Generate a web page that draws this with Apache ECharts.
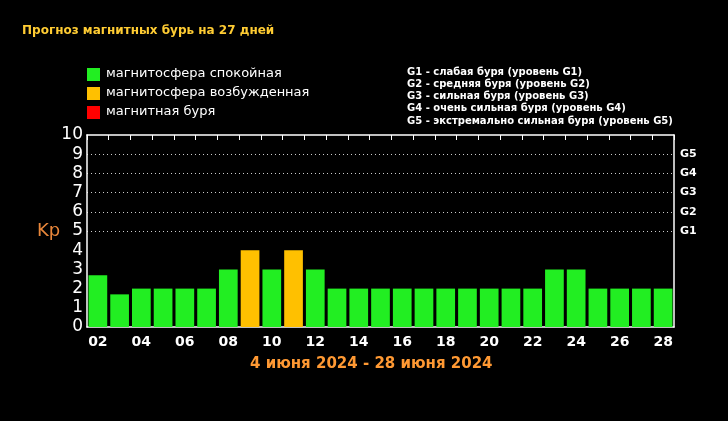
<!DOCTYPE html>
<html>
<head>
<meta charset="utf-8">
<script src="https://cdn.jsdelivr.net/npm/echarts@6/dist/echarts.min.js"></script>
<style>html,body{margin:0;background:#000}#chart{width:728px;height:421px}</style>
</head>
<body>
<div id="chart"></div>
<script>
var days = ['02','03','04','05','06','07','08','09','10','11','12','13','14','15','16','17','18','19','20','21','22','23','24','25','26','27','28'];
var kp = [2.7, 1.7, 2, 2, 2, 2, 3, 4, 3, 4, 3, 2, 2, 2, 2, 2, 2, 2, 2, 2, 2, 3, 3, 2, 2, 2, 2];
var stormLevels = {5: 'G1', 6: 'G2', 7: 'G3', 8: 'G4', 9: 'G5'};
var legendItems = [
    {text: 'магнитосфера спокойная', color: '#22ee22'},
    {text: 'магнитосфера возбужденная', color: '#ffc000'},
    {text: 'магнитная буря', color: '#ff0000'}
];
var stormNotes = [
    'G1 - слабая буря (уровень G1)',
    'G2 - средняя буря (уровень G2)',
    'G3 - сильная буря (уровень G3)',
    'G4 - очень сильная буря (уровень G4)',
    'G5 - экстремально сильная буря (уровень G5)'
];

function barColor(v) {
    if (v >= 5) return '#ff0000';
    if (v >= 4) return '#ffc000';
    return '#22ee22';
}

var graphics = [
    {type: 'text', left: 22, top: 25, style: {text: 'Прогноз магнитных бурь на 27 дней', fill: '#ffcc33', font: 'bold 12px "DejaVu Sans"'}},
    {type: 'text', left: 37, top: 222, style: {text: 'Kp', fill: '#e8863a', font: '18px "DejaVu Sans"'}},
    {type: 'text', left: 250, top: 357, style: {text: '4 июня 2024 - 28 июня 2024', fill: '#ff9933', font: 'bold 15px "DejaVu Sans"'}}
];
legendItems.forEach(function (it, i) {
    graphics.push({type: 'rect', shape: {x: 87, y: 68 + i * 19, width: 13, height: 13}, style: {fill: it.color}});
    graphics.push({type: 'text', left: 106, top: 67 + i * 19, style: {text: it.text, fill: '#fff', font: '13px "DejaVu Sans"'}});
});
stormNotes.forEach(function (t, i) {
    graphics.push({type: 'text', left: 407, top: 67 + i * 12.3, style: {text: t, fill: '#fff', font: 'bold 10px "DejaVu Sans"'}});
});

var myChart = echarts.init(document.getElementById('chart'));
myChart.setOption({
    backgroundColor: '#000',
    animation: false,
    grid: {left: 87, right: 54, top: 135, bottom: 94},
    graphic: graphics,
    xAxis: [
        {
            type: 'category', data: days, position: 'bottom',
            axisLine: {onZero: false, lineStyle: {color: '#fff', width: 1.5}},
            axisTick: {show: false},
            axisLabel: {interval: 1, color: '#fff', fontWeight: 'bold', fontSize: 14, fontFamily: 'DejaVu Sans', margin: 8}
        },
        {
            type: 'category', data: days, position: 'top',
            axisLine: {onZero: false, lineStyle: {color: '#fff', width: 1.5}},
            axisTick: {show: true, inside: true, length: 5, interval: 0, lineStyle: {color: '#fff'}},
            axisLabel: {show: false}
        }
    ],
    yAxis: [
        {
            type: 'value', min: 0, max: 10, interval: 1, position: 'left',
            axisLine: {show: true, onZero: false, lineStyle: {color: '#fff', width: 1.5}},
            axisTick: {show: false},
            axisLabel: {color: '#fff', fontSize: 17, fontFamily: 'DejaVu Sans', margin: 4},
            splitLine: {show: false}
        },
        {
            type: 'value', min: 0, max: 10, interval: 1, position: 'right',
            axisLine: {show: true, onZero: false, lineStyle: {color: '#fff', width: 1.5}},
            axisTick: {show: false},
            axisLabel: {color: '#fff', fontSize: 11, fontWeight: 'bold', fontFamily: 'DejaVu Sans', margin: 6,
                formatter: function (v) { return stormLevels[v] || ''; }},
            splitLine: {show: true, lineStyle: {type: [1, 3], width: 1,
                color: ['transparent', 'transparent', 'transparent', 'transparent', 'transparent', '#ccc', '#ccc', '#ccc', '#ccc', '#ccc', 'transparent']}}
        }
    ],
    series: [{
        type: 'bar',
        barCategoryGap: '14%',
        data: kp.map(function (v) { return {value: v, itemStyle: {color: barColor(v)}}; })
    }]
});
</script>
</body>
</html>
